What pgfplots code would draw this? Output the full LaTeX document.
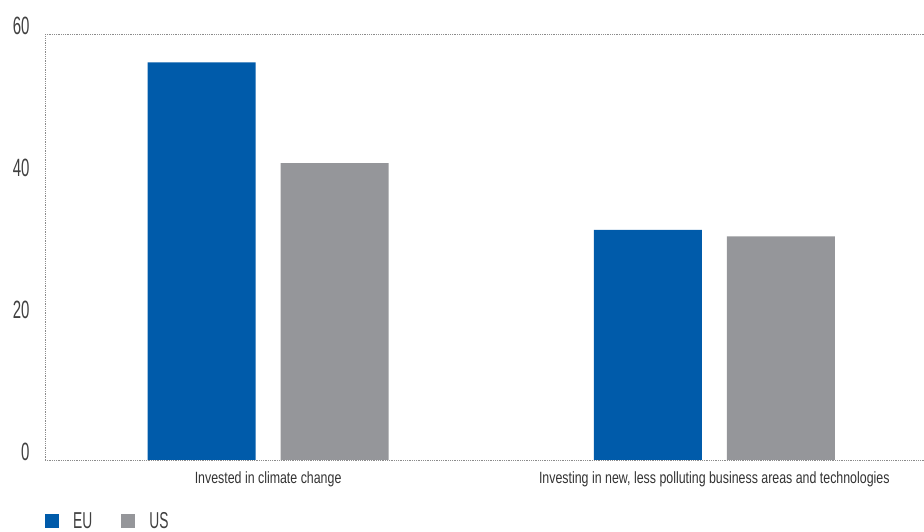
\documentclass[border=0pt]{standalone}
\usepackage{fontspec}
\setmainfont{Liberation Sans}[FakeStretch=0.76]
\newfontfamily\tickfont{Liberation Sans}[FakeStretch=0.6]
\usepackage{pgfplots}
\pgfplotsset{compat=1.18}
\definecolor{eublue}{RGB}{0,91,170}
\definecolor{usgray}{RGB}{149,150,154}
\definecolor{axgray}{RGB}{140,140,140}
\begin{document}
\begin{tikzpicture}
\path[use as bounding box] (-45pt,-72pt) rectangle (879pt,460pt);
\begin{axis}[
  scale only axis,
  width=879pt, height=426pt,
  ymin=0, ymax=60,
  xmin=-0.5, xmax=1.47,
  ytick={0,20,40,60},
  xtick={0,1},
  xticklabels={Invested in climate change, {Investing in new, less polluting business areas and technologies}},
  axis x line*=bottom,
  axis y line*=left,
  axis line style={densely dotted, axgray, line width=0.8pt},
  major tick length=0pt,
  /pgf/number format/assume math mode=true,
  yticklabel style={font=\fontsize{25}{25}\selectfont\tickfont\color{black!75}, xshift=-12pt, yshift=8pt},
  xticklabel style={font=\fontsize{16.3}{16.3}\selectfont\color{black!80}, yshift=-8pt},
  ybar, bar width=0.242,
  separate axis lines,
  legend style={at={(0,-61pt)}, anchor=west, draw=none, fill=none,
    font=\fontsize{23}{23}\selectfont\tickfont\color{black!75}, legend columns=2,
    /tikz/every odd column/.append style={column sep=12pt},
    /tikz/every even column/.append style={column sep=27pt},
    inner sep=0pt},
  legend image code/.code={\fill[#1] (0pt,-7pt) rectangle (14pt,7pt);},
  legend cell align=left,
]
\addplot[fill=eublue, draw=none, bar shift=-0.149] coordinates {(0,56.0) (1,32.4)};
\addlegendentry{EU}
\addplot[fill=usgray, draw=none, bar shift=0.149] coordinates {(0,41.8) (1,31.5)};
\addlegendentry{US}
\draw[densely dotted, axgray, line width=0.8pt] (rel axis cs:0,1) -- (rel axis cs:1,1);
\end{axis}
\end{tikzpicture}
\end{document}
